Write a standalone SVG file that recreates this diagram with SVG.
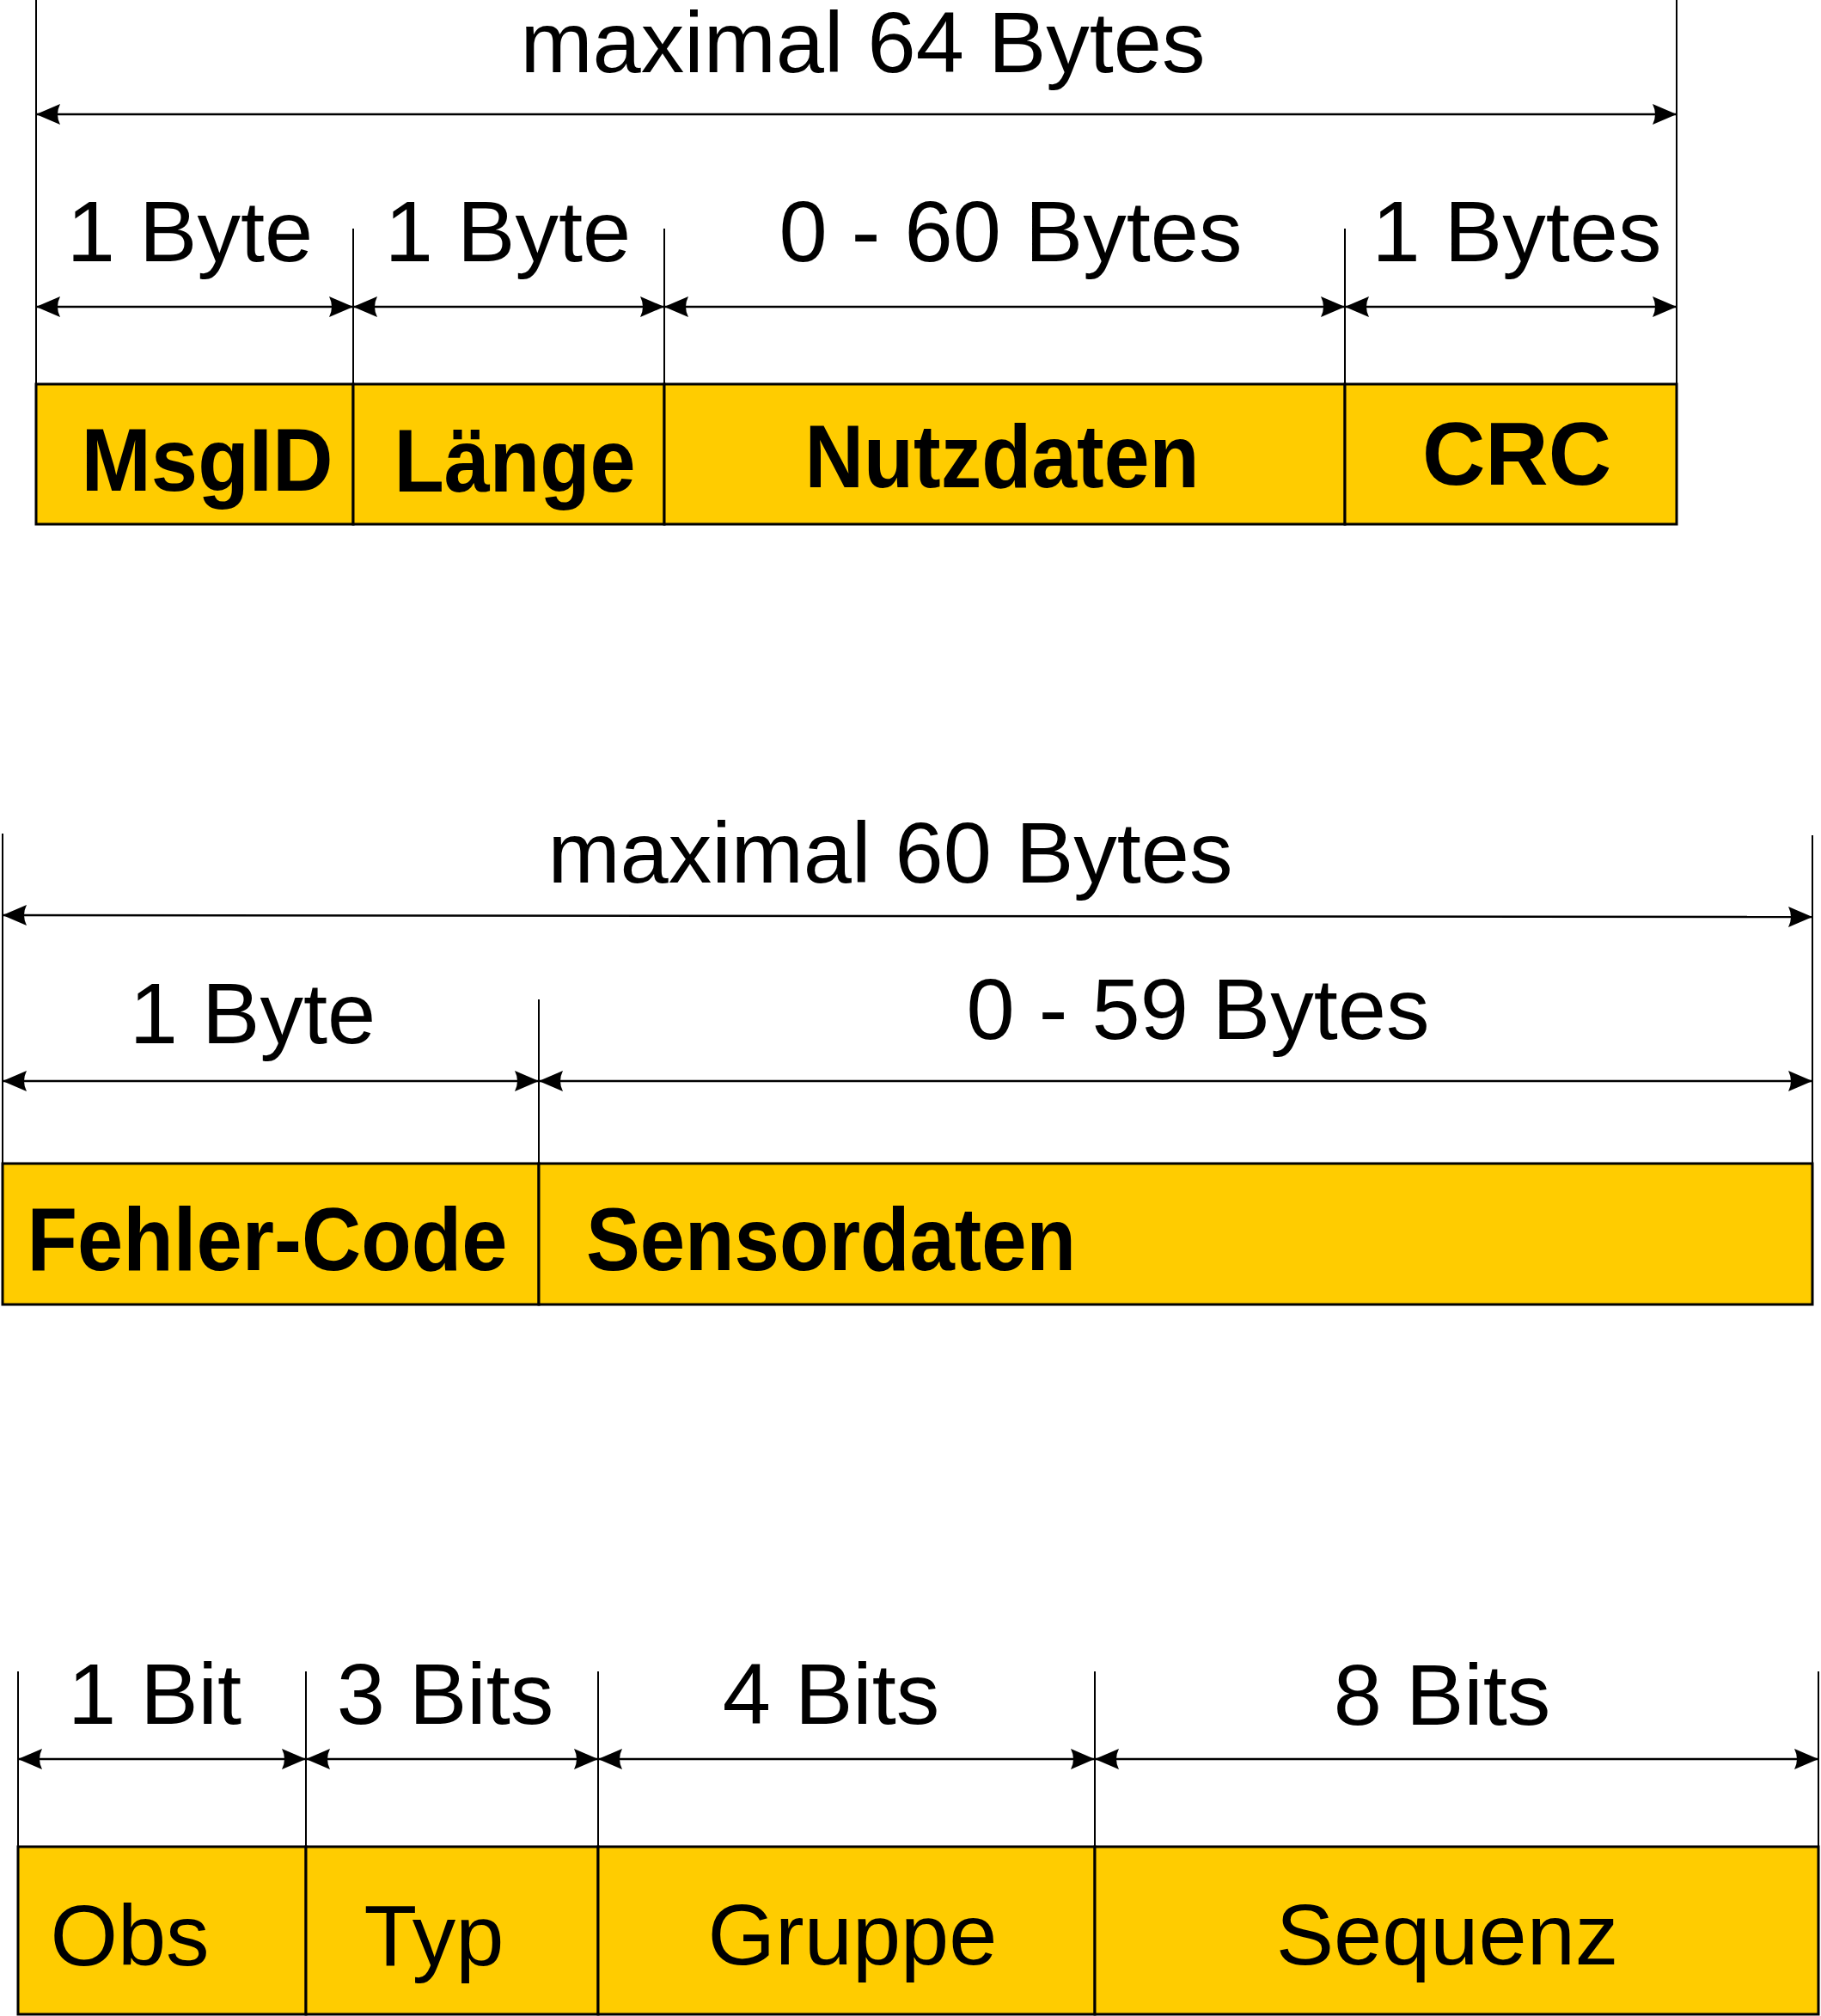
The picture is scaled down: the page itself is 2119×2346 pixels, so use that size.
<svg xmlns="http://www.w3.org/2000/svg" width="2119" height="2346" viewBox="0 0 2119 2346">
  <style>
    .field { fill: #FFCC00; stroke: #000; stroke-width: 3; }
    .ext { stroke: #000; stroke-width: 2; fill: none; }
    .dim { stroke: #000; stroke-width: 2.5; fill: none; marker-start: url(#barb); marker-end: url(#barb); }
    .lbl { font-family: "Liberation Sans", Arial, sans-serif; font-size: 101px; fill: #000; text-anchor: middle; }
    .name { font-family: "Liberation Sans", Arial, sans-serif; font-size: 104px; font-weight: bold; fill: #000; text-anchor: middle; }
    .name-r { font-family: "Liberation Sans", Arial, sans-serif; font-size: 101px; fill: #000; text-anchor: middle; }
  </style>
  <defs>
    <marker id="barb" markerUnits="userSpaceOnUse" viewBox="-30 -15 32 30" markerWidth="32" markerHeight="30" refX="0" refY="0" orient="auto-start-reverse" overflow="visible">
      <path d="M0,0 L-28,-12 Q-22,0 -28,12 Z" fill="#000"/>
    </marker>
  </defs>

  <rect width="2119" height="2346" fill="#fff"/>

  <!-- Frame 1: message, max 64 bytes -->
  <g id="msgid">
    <rect class="field" x="42" y="447" width="369" height="163"/>
    <text class="name" x="241" y="571" textLength="293" lengthAdjust="spacingAndGlyphs">MsgID</text>
  </g>
  <g id="laenge">
    <rect class="field" x="411" y="447" width="362" height="163"/>
    <text class="name" x="599" y="572" textLength="281" lengthAdjust="spacingAndGlyphs">Länge</text>
  </g>
  <g id="nutzdaten">
    <rect class="field" x="773" y="447" width="792" height="163"/>
    <text class="name" x="1166" y="567" textLength="459" lengthAdjust="spacingAndGlyphs">Nutzdaten</text>
  </g>
  <g id="crc">
    <rect class="field" x="1565" y="447" width="386" height="163"/>
    <text class="name" x="1765" y="564" textLength="220" lengthAdjust="spacingAndGlyphs">CRC</text>
  </g>

  <!-- Frame 2: payload, max 60 bytes -->
  <g id="fehler-code">
    <rect class="field" x="3" y="1354" width="624" height="164"/>
    <text class="name" x="311" y="1478" textLength="559" lengthAdjust="spacingAndGlyphs">Fehler-Code</text>
  </g>
  <g id="sensordaten">
    <rect class="field" x="627" y="1354" width="1482" height="164"/>
    <text class="name" x="967" y="1478" textLength="570" lengthAdjust="spacingAndGlyphs">Sensordaten</text>
  </g>

  <!-- Frame 3: 16-bit identifier -->
  <g id="obs">
    <rect class="field" x="21" y="2149" width="335" height="195"/>
    <text class="name-r" x="151" y="2287">Obs</text>
  </g>
  <g id="typ">
    <rect class="field" x="356" y="2149" width="340" height="195"/>
    <text class="name-r" x="505" y="2287">Typ</text>
  </g>
  <g id="gruppe">
    <rect class="field" x="696" y="2149" width="578" height="195"/>
    <text class="name-r" x="992" y="2286">Gruppe</text>
  </g>
  <g id="sequenz">
    <rect class="field" x="1274" y="2149" width="842" height="195"/>
    <text class="name-r" x="1684" y="2286">Sequenz</text>
  </g>

  <!-- Extension and dimension lines -->
  <g id="connectors">
    <!-- frame 1 -->
    <line class="ext" x1="42" y1="0" x2="42" y2="447"/>
    <line class="ext" x1="1951" y1="0" x2="1951" y2="447"/>
    <line class="ext" x1="411" y1="266" x2="411" y2="447"/>
    <line class="ext" x1="773" y1="266" x2="773" y2="447"/>
    <line class="ext" x1="1565" y1="266" x2="1565" y2="447"/>
    <line class="dim" x1="42" y1="133" x2="1951" y2="133"/>
    <line class="dim" x1="42" y1="357" x2="411" y2="357"/>
    <line class="dim" x1="411" y1="357" x2="773" y2="357"/>
    <line class="dim" x1="773" y1="357" x2="1565" y2="357"/>
    <line class="dim" x1="1565" y1="357" x2="1951" y2="357"/>
    <!-- frame 2 -->
    <line class="ext" x1="3" y1="970" x2="3" y2="1354"/>
    <line class="ext" x1="2109" y1="972" x2="2109" y2="1354"/>
    <line class="ext" x1="627" y1="1163" x2="627" y2="1354"/>
    <line class="dim" x1="3" y1="1065" x2="2109" y2="1067"/>
    <line class="dim" x1="3" y1="1258" x2="627" y2="1258"/>
    <line class="dim" x1="627" y1="1258" x2="2109" y2="1258"/>
    <!-- frame 3 -->
    <line class="ext" x1="21" y1="1945" x2="21" y2="2149"/>
    <line class="ext" x1="356" y1="1945" x2="356" y2="2149"/>
    <line class="ext" x1="696" y1="1945" x2="696" y2="2149"/>
    <line class="ext" x1="1274" y1="1945" x2="1274" y2="2149"/>
    <line class="ext" x1="2116" y1="1945" x2="2116" y2="2149"/>
    <line class="dim" x1="21" y1="2047" x2="356" y2="2047"/>
    <line class="dim" x1="356" y1="2047" x2="696" y2="2047"/>
    <line class="dim" x1="696" y1="2047" x2="1274" y2="2047"/>
    <line class="dim" x1="1274" y1="2047" x2="2116" y2="2047"/>
  </g>

  <!-- Size labels -->
  <g id="sizes">
    <text class="lbl" x="1004" y="84">maximal 64 Bytes</text>
    <text class="lbl" x="221" y="304">1 Byte</text>
    <text class="lbl" x="591" y="304">1 Byte</text>
    <text class="lbl" x="1176" y="304">0 - 60 Bytes</text>
    <text class="lbl" x="1765" y="304">1 Bytes</text>

    <text class="lbl" x="1036" y="1027">maximal 60 Bytes</text>
    <text class="lbl" x="294" y="1214">1 Byte</text>
    <text class="lbl" x="1394" y="1209">0 - 59 Bytes</text>

    <text class="lbl" x="180" y="2006">1 Bit</text>
    <text class="lbl" x="518" y="2006">3 Bits</text>
    <text class="lbl" x="967" y="2006">4 Bits</text>
    <text class="lbl" x="1678" y="2007">8 Bits</text>
  </g>
</svg>
